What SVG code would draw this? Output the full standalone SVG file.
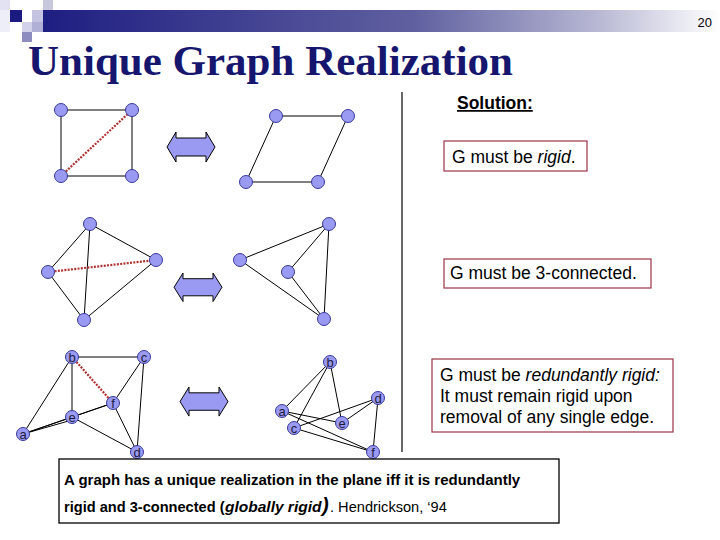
<svg xmlns="http://www.w3.org/2000/svg" width="720" height="540" viewBox="0 0 720 540">
<defs>
<linearGradient id="bar" x1="0" y1="0" x2="1" y2="0">
<stop offset="0" stop-color="#1e1e82"/>
<stop offset="0.55" stop-color="#6060a0"/>
<stop offset="0.82" stop-color="#b8b8d4"/>
<stop offset="1" stop-color="#ffffff"/>
</linearGradient>
<path id="dbl" d="M0,15 L9,0 L9,6 L39,6 L39,0 L48,15 L39,30 L39,24 L9,24 L9,30 Z"/>
<style>
.n{fill:#9a9af2;stroke:#3a3a9a;stroke-width:1}
.e{stroke:#000;stroke-width:1;fill:none}
.r{stroke:#b03030;stroke-width:2.2;stroke-dasharray:2 1.3;fill:none}
.lab{font-family:"Liberation Sans",Arial,sans-serif;font-size:13px;fill:#1a1a3a;text-anchor:middle}
.arr{fill:#9a9af2;stroke:#000;stroke-width:1}
.box{fill:#fff;stroke:#993344;stroke-width:1.2}
.t{font-family:"Liberation Sans",Arial,sans-serif;font-size:17.5px;fill:#000}
</style>
</defs>
<rect width="720" height="540" fill="#fff"/>
<g id="header">
<rect x="43" y="10" width="677" height="22" fill="url(#bar)"/>
<rect x="0" y="0" width="10" height="10" fill="#e2e2f2"/>
<rect x="0" y="10" width="10" height="22" fill="#eeeef8"/>
<rect x="10" y="10" width="12" height="12" fill="#1a1a80"/>
<rect x="32" y="10" width="11" height="12" fill="#c4c4e2"/>
<rect x="43" y="0" width="10" height="10" fill="#c8c8dc"/>
<rect x="22" y="22" width="10" height="10" fill="#d2d2ea"/>
<rect x="32" y="22" width="11" height="10" fill="#b0b0d6"/>
<rect x="22" y="32" width="10" height="10" fill="#8c8cc0"/>
<text x="28" y="75" font-family="'Liberation Serif','Times New Roman',serif" font-weight="bold" font-size="43" fill="#16166e">Unique Graph Realization</text>
<text x="712" y="27" text-anchor="end" font-family="'Liberation Sans',Arial,sans-serif" font-size="13" fill="#000">20</text>
</g>
<g id="divider"><line x1="402" y1="92" x2="402" y2="452" stroke="#000" stroke-width="1.2"/></g>
<g id="connectors">
<line class="e" x1="61" y1="110" x2="132" y2="110"/>
<line class="e" x1="61" y1="176" x2="132" y2="176"/>
<line class="e" x1="61" y1="110" x2="61" y2="176"/>
<line class="e" x1="132" y1="110" x2="132" y2="176"/>
<line class="r" x1="61" y1="176" x2="132" y2="110"/>
<line class="e" x1="276" y1="116" x2="348" y2="116"/>
<line class="e" x1="246" y1="182" x2="318" y2="182"/>
<line class="e" x1="276" y1="116" x2="246" y2="182"/>
<line class="e" x1="348" y1="116" x2="318" y2="182"/>
<line class="e" x1="90" y1="224" x2="48" y2="272"/>
<line class="e" x1="90" y1="224" x2="156" y2="260"/>
<line class="e" x1="90" y1="224" x2="84" y2="320"/>
<line class="e" x1="48" y1="272" x2="84" y2="320"/>
<line class="e" x1="156" y1="260" x2="84" y2="320"/>
<line class="r" x1="48" y1="272" x2="156" y2="260"/>
<line class="e" x1="240" y1="260" x2="329" y2="224"/>
<line class="e" x1="240" y1="260" x2="324" y2="319"/>
<line class="e" x1="329" y1="224" x2="288" y2="272"/>
<line class="e" x1="288" y1="272" x2="324" y2="319"/>
<line class="e" x1="329" y1="224" x2="324" y2="319"/>
<line class="e" x1="72" y1="357" x2="144" y2="357"/>
<line class="e" x1="72" y1="357" x2="72" y2="417"/>
<line class="e" x1="72" y1="357" x2="23" y2="434"/>
<line class="e" x1="23" y1="434" x2="72" y2="417"/>
<line class="e" x1="23" y1="434" x2="72" y2="420"/>
<line class="e" x1="23" y1="434" x2="113" y2="403"/>
<line class="e" x1="72" y1="417" x2="113" y2="403"/>
<line class="e" x1="144" y1="357" x2="113" y2="403"/>
<line class="e" x1="144" y1="357" x2="137" y2="452"/>
<line class="e" x1="72" y1="417" x2="137" y2="452"/>
<line class="e" x1="113" y1="403" x2="137" y2="452"/>
<line class="r" x1="72" y1="357" x2="113" y2="403"/>
<line class="e" x1="330" y1="362" x2="282" y2="411"/>
<line class="e" x1="330" y1="362" x2="294" y2="428"/>
<line class="e" x1="330" y1="362" x2="342" y2="423"/>
<line class="e" x1="282" y1="411" x2="342" y2="423"/>
<line class="e" x1="282" y1="411" x2="373" y2="452"/>
<line class="e" x1="294" y1="428" x2="378" y2="398"/>
<line class="e" x1="294" y1="428" x2="373" y2="452"/>
<line class="e" x1="378" y1="398" x2="342" y2="423"/>
<line class="e" x1="378" y1="398" x2="373" y2="452"/>
</g>
<g id="arrows">
<use href="#dbl" class="arr" transform="translate(167,132)"/>
<use href="#dbl" class="arr" transform="translate(174,273) scale(1,0.95)"/>
<use href="#dbl" class="arr" transform="translate(180,387) scale(1,0.97)"/>
</g>
<g id="g1-nodes">
<circle class="n" cx="61" cy="110" r="6.5"/><circle class="n" cx="132" cy="110" r="6.5"/>
<circle class="n" cx="61" cy="176" r="6.5"/><circle class="n" cx="132" cy="176" r="6.5"/>
<circle class="n" cx="276" cy="116" r="6.5"/><circle class="n" cx="348" cy="116" r="6.5"/>
<circle class="n" cx="246" cy="182" r="6.5"/><circle class="n" cx="318" cy="182" r="6.5"/>
</g>
<g id="g2-nodes">
<circle class="n" cx="90" cy="224" r="6.5"/><circle class="n" cx="156" cy="260" r="6.5"/>
<circle class="n" cx="48" cy="272" r="6.5"/><circle class="n" cx="84" cy="320" r="6.5"/>
<circle class="n" cx="329" cy="224" r="6.5"/><circle class="n" cx="240" cy="260" r="6.5"/>
<circle class="n" cx="288" cy="272" r="6.5"/><circle class="n" cx="324" cy="319" r="6.5"/>
</g>
<g id="g3-left">
<g id="L-b"><circle class="n" cx="72" cy="357" r="6.5"/><text class="lab" x="72" y="362">b</text></g>
<g id="L-c"><circle class="n" cx="144" cy="357" r="6.5"/><text class="lab" x="144" y="362">c</text></g>
<g id="L-f"><circle class="n" cx="113" cy="403" r="6.5"/><text class="lab" x="113" y="408">f</text></g>
<g id="L-e"><circle class="n" cx="72" cy="417" r="6.5"/><text class="lab" x="72" y="422">e</text></g>
<g id="L-a"><circle class="n" cx="23" cy="434" r="6.5"/><text class="lab" x="23" y="439">a</text></g>
<g id="L-d"><circle class="n" cx="137" cy="452" r="6.5"/><text class="lab" x="137" y="457">d</text></g>
</g>
<g id="g3-right">
<g id="R-b"><circle class="n" cx="330" cy="362" r="6.5"/><text class="lab" x="330" y="367">b</text></g>
<g id="R-a"><circle class="n" cx="282" cy="411" r="6.5"/><text class="lab" x="282" y="416">a</text></g>
<g id="R-c"><circle class="n" cx="294" cy="428" r="6.5"/><text class="lab" x="294" y="433">c</text></g>
<g id="R-e"><circle class="n" cx="342" cy="423" r="6.5"/><text class="lab" x="342" y="428">e</text></g>
<g id="R-d"><circle class="n" cx="378" cy="398" r="6.5"/><text class="lab" x="378" y="403">d</text></g>
<g id="R-f"><circle class="n" cx="373" cy="452" r="6.5"/><text class="lab" x="373" y="457">f</text></g>
</g>
<g id="solution">
<text class="t" x="457" y="109" font-weight="bold" text-decoration="underline">Solution:</text>
</g>
<g id="box-rigid">
<rect class="box" x="444" y="141" width="143" height="30"/>
<text class="t" x="452" y="163">G must be <tspan font-style="italic">rigid</tspan>.</text>
</g>
<g id="box-3conn">
<rect class="box" x="444" y="259" width="207" height="29"/>
<text class="t" x="450" y="279">G must be 3-connected.</text>
</g>
<g id="box-redundant">
<rect class="box" x="432" y="359" width="241" height="73"/>
<text class="t" x="440" y="381">G must be <tspan font-style="italic">redundantly rigid:</tspan></text>
<text class="t" x="440" y="402">It must remain rigid upon</text>
<text class="t" x="440" y="423">removal of any single edge.</text>
</g>
<g id="box-theorem">
<rect x="59" y="459" width="500" height="64" fill="#fff" stroke="#000" stroke-width="1.3"/>
<text class="t" x="64" y="485" style="font-size:15px" font-weight="bold">A graph has a unique realization in the plane iff it is redundantly</text>
<text class="t" x="64" y="512" style="font-size:14.6px" font-weight="bold">rigid and 3-connected (</text>
<text class="t" x="225" y="512" style="font-size:15.5px" font-weight="bold" font-style="italic">globally rigid</text>
<text class="t" x="322" y="512" style="font-size:20px" font-weight="bold" font-style="italic">)</text>
<text class="t" x="330" y="512" style="font-size:14.6px">. Hendrickson, ‘94</text>
</g>
</svg>
